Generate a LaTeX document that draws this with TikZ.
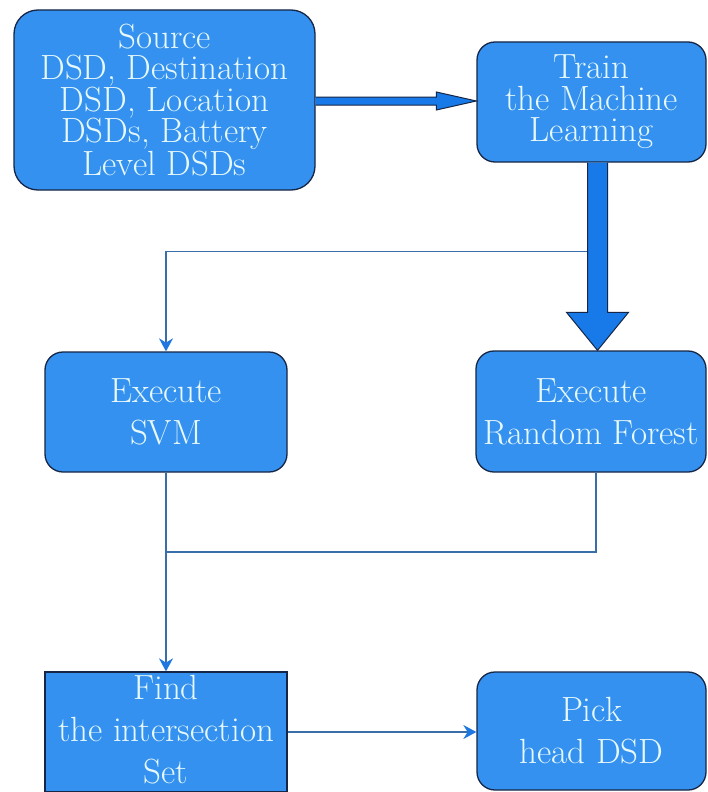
\documentclass[tikz,border=0pt]{standalone}
\usepackage{fontspec}
\usetikzlibrary{arrows.meta,calc}
\definecolor{boxblue}{RGB}{52,145,240}
\definecolor{edgenavy}{RGB}{22,38,70}
\definecolor{fatblue}{RGB}{24,122,232}
\definecolor{linkblue}{RGB}{58,110,168}
\definecolor{tipblue}{RGB}{30,120,225}
\definecolor{txtwhite}{RGB}{230,248,250}

\begin{document}
\begin{tikzpicture}[x=1pt,y=-1pt,
	box/.style={draw=edgenavy, line width=1.3pt, fill=boxblue, text=txtwhite, align=center, inner sep=0pt, rounded corners=18pt},
	tight/.style={font=\rmfamily\fontsize{35}{31.5}\selectfont},
	loose/.style={font=\rmfamily\fontsize{35}{42}\selectfont},
	link/.style={draw=linkblue, line width=1.2pt},
	tip/.style={-{Stealth[length=13pt,width=14pt,color=tipblue]}},
	fat/.style={draw=edgenavy, line width=1pt, fill=fatblue}]

	\fill[white] (0,0) rectangle (707,792);
	\useasboundingbox (0,0) rectangle (707,792);

	\node[box,tight,rounded corners=24pt,minimum width=301pt,minimum height=180pt] (src) at (164.5,100) {Source\\DSD, Destination\\DSD, Location\\DSDs, Battery\\Level DSDs};
	\node[box,tight,minimum width=229pt,minimum height=120pt] (train) at (591.5,102) {Train\\the Machine\\Learning};

	\node[box,loose,minimum width=242pt,minimum height=120pt] (svm) at (166,412) {Execute\\SVM};
	\node[box,loose,minimum width=230pt,minimum height=121pt] (rf) at (591,411.5) {Execute\\Random Forest};

	\node[box,loose,rounded corners=0pt,minimum width=242pt,minimum height=120pt] (find) at (166,732) {Find\\the intersection\\Set\rule[-6pt]{0pt}{6pt}};
	\node[box,loose,minimum width=229pt,minimum height=118pt] (pick) at (591.5,731) {Pick\\head DSD};

	\coordinate (h0) at ([yshift=-1pt]src.east);
	\coordinate (h1) at (train.west |- h0);
	\coordinate (v0) at ([xshift=6pt]train.south);
	\coordinate (v1) at (v0 |- rf.north);
	\coordinate (tap) at ($(v0)+(-10,89)$);
	\coordinate (merge) at (svm.south |- 0,552);

	\draw[link,tip] (tap) -| (svm.north);
	\draw[link] ([xshift=5pt]rf.south) |- (merge);
	\draw[link,tip] (svm.south) -- (find.north);
	\draw[link,tip] (find.east) -- (find.east -| pick.west);

	\filldraw[fat] ($(h0)+(0,-4)$) -- ($(h1)+(-40,-4)$) -- ($(h1)+(-40,-9)$) -- (h1) -- ($(h1)+(-40,9)$) -- ($(h1)+(-40,4)$) -- ($(h0)+(0,4)$);
	\filldraw[fat] ($(v0)+(-10,0)$) -- ($(v1)+(-10,-38)$) -- ($(v1)+(-31,-38)$) -- (v1) -- ($(v1)+(31,-38)$) -- ($(v1)+(10,-38)$) -- ($(v0)+(10,0)$);
\end{tikzpicture}
\end{document}
